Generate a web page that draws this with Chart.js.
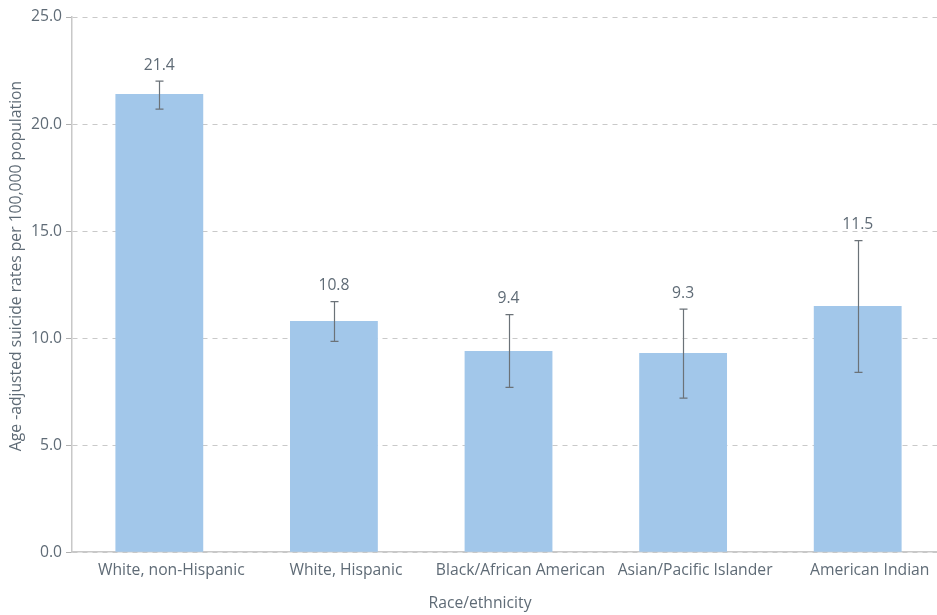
<!DOCTYPE html>
<html><head><meta charset="utf-8">
<script src="https://cdn.jsdelivr.net/npm/chart.js@4.4.0/dist/chart.umd.min.js"></script>
<style>html,body{margin:0;padding:0;background:#fff;overflow:hidden}#wrap{width:937px;height:615px;overflow:hidden}</style>
</head><body><div id="wrap"><canvas id="c" width="945" height="615"></canvas></div>
<script>
const categories = ["White, non-Hispanic","White, Hispanic","Black/African American","Asian/Pacific Islander","American Indian"];
const rates = [21.4, 10.8, 9.4, 9.3, 11.5];
const errLow = [20.7, 9.85, 7.7, 7.2, 8.4];
const errHigh = [22.0, 11.7, 11.1, 11.35, 14.55];
const yTicks = [0, 5, 10, 15, 20, 25];
const yTitle = 'Age -adjusted suicide rates per 100,000 population';
const xTitle = 'Race/ethnicity';

const FONT = "'Open Sans', sans-serif";
const FS = 15.7;
const TXT = '#5f6b76';

const errPlugin = {
  id: 'errbars',
  afterDatasetsDraw(chart) {
    const ctx = chart.ctx, y = chart.scales.y, meta = chart.getDatasetMeta(0);
    ctx.save();
    meta.data.forEach((bar, i) => {
      const x = Math.round(bar.x) + 0.5;
      const yt = y.getPixelForValue(errHigh[i]), yb = y.getPixelForValue(errLow[i]);
      ctx.strokeStyle = '#6b7278'; ctx.lineWidth = 1.2;
      ctx.beginPath();
      ctx.moveTo(x, yt); ctx.lineTo(x, yb);
      ctx.moveTo(x - 4, yt); ctx.lineTo(x + 4, yt);
      ctx.moveTo(x - 4, yb); ctx.lineTo(x + 4, yb);
      ctx.stroke();
      ctx.fillStyle = TXT; ctx.font = FS + "px " + FONT;
      ctx.textAlign = 'center'; ctx.textBaseline = 'bottom';
      ctx.fillText(rates[i].toFixed(1), bar.x, yt - 8);
    });
    ctx.restore();
  },
  afterDraw(chart) {
    const ctx = chart.ctx;
    ctx.save();
    ctx.fillStyle = TXT; ctx.font = FS + "px " + FONT;
    ctx.textAlign = 'center'; ctx.textBaseline = 'middle';
    ctx.fillText(xTitle, 480, 604);
    ctx.translate(17, 266);
    ctx.rotate(-Math.PI / 2);
    ctx.fillText(yTitle, 0, 0);
    ctx.restore();
  }
};

new Chart(document.getElementById('c'), {
  type: 'bar',
  data: { labels: categories, datasets: [{ data: rates, backgroundColor: '#a2c7ea', borderWidth: 0, categoryPercentage: 1, barPercentage: 0.503 }] },
  options: {
    responsive: false, animation: false,
    layout: { padding: { left: 27, right: 0, top: 17, bottom: 26 } },
    plugins: { legend: { display: false }, tooltip: { enabled: false } },
    scales: {
      x: {
        grid: { display: false, drawTicks: false },
        border: { color: '#c8c8c8', width: 1.5 },
        ticks: { color: TXT, font: { family: FONT, size: FS }, padding: 9, labelOffset: 12, maxRotation: 0, autoSkip: false }
      },
      y: {
        min: 0, max: 25,
        afterBuildTicks(axis) { axis.ticks = yTicks.map(v => ({ value: v })); },
        grid: { color: '#c9c9c9', tickColor: '#b0b0b0', tickLength: 6, drawTicks: true },
        border: { color: '#c8c8c8', width: 1.5, dash: [5, 5] },
        ticks: { color: TXT, font: { family: FONT, size: FS }, padding: 4, callback: v => Number(v).toFixed(1) }
      }
    }
  },
  plugins: [errPlugin]
});
</script></body></html>
